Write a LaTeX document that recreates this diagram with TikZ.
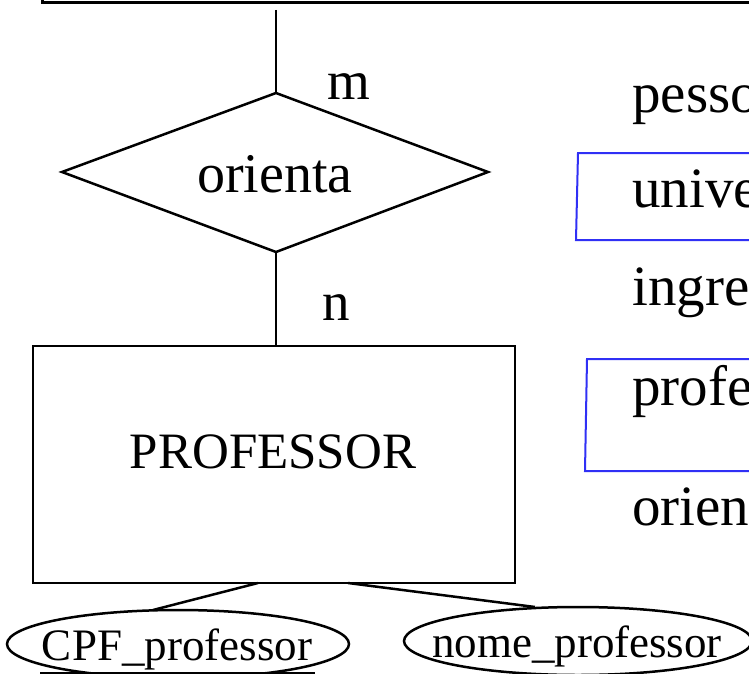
\documentclass[tikz,border=0pt]{standalone}
\usepackage{fontspec}
\setmainfont{Liberation Serif}
\usetikzlibrary{shapes.geometric}
\definecolor{boxblue}{RGB}{48,48,245}
\tikzset{
  big/.style={font=\fontsize{55}{62}\selectfont, inner sep=0pt},
  side/.style={font=\fontsize{57}{64}\selectfont, inner sep=0pt, anchor=base west},
  attr/.style={font=\fontsize{45}{52}\selectfont, inner sep=0pt},
  edge/.style={line width=2.5pt},
  frame/.style={line width=3pt},
  bluebox/.style={draw=boxblue, line width=2pt}
}
\begin{document}
\begin{tikzpicture}[x=1pt,y=-1pt]
\useasboundingbox (0,0) rectangle (749,674);
\clip (0,0) rectangle (749,674);

% entity above, cut by the page edge
\draw[frame] (42,-30) -- (42,3) -- (780,3);
\coordinate (top) at (276,10);

% relationship
\draw[edge, line join=miter] (276,93) coordinate (dT) -- (488,172) -- (276,252) coordinate (dB) -- (62,172) -- cycle;
\node[big, font=\fontsize{56}{62}\selectfont] (rel) at (275,174) {orienta};
\draw[edge] (top) -- (dT);
\node[big, anchor=base west] (card-m) at (327,100) {m};

% entity PROFESSOR
\node[draw, edge, minimum width=482pt, minimum height=237pt, inner sep=0pt] (prof) at (274,464.5) {};
\node[big, font=\fontsize{51}{58}\selectfont] (proflbl) at (273,452) {PROFESSOR};
\draw[edge] (dB) -- (prof.north -| dB);
\node[big, anchor=base west] (card-n) at (322,320) {n};

% attributes
\node[draw, edge, ellipse, minimum width=342pt, minimum height=68pt, inner sep=0pt] (cpf) at (178,644) {};
\node[attr] (cpflbl) at (177,649) {CPF\_professor};
\draw[line width=2.4pt] (40,673.5) -- (315,673.5);
\node[draw, edge, ellipse, minimum width=348pt, minimum height=68pt, inner sep=0pt] (nome) at (578,641) {};
\node[attr] (nomelbl) at (577,646) {nome\_professor};
\coordinate (p1) at (258,583);
\coordinate (p2) at (348,583);
\draw[edge] (p1) -- (153,610);
\draw[edge] (p2) -- (535,607);

% text column on the right
\node[side] (t1) at (632,113) {pessoa};
\draw[bluebox] (780,153) -- (578,153) -- (576,240) -- (780,240);
\node[side] (t2) at (632,207) {universidade};
\node[side] (t3) at (632,305) {ingresso};
\draw[bluebox] (780,359) -- (587,359) -- (585,471) -- (780,471);
\node[side] (t4) at (632,405) {professor};
\node[side] (t5) at (632,525) {orientador};
\end{tikzpicture}
\end{document}
